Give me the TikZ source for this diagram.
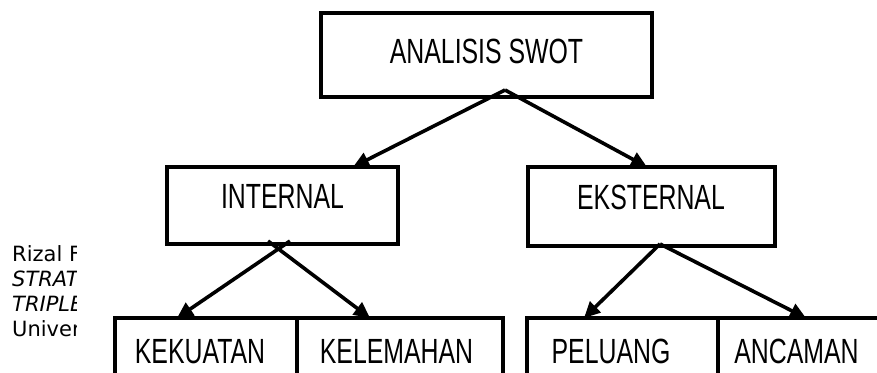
\documentclass[tikz,border=0pt]{standalone}
\usepackage{fontspec}
\usetikzlibrary{arrows.meta}
\newfontfamily\boxfont[FakeStretch=0.71]{Liberation Sans}
\newfontfamily\pagefont{DejaVu Sans}

\begin{document}
\begin{tikzpicture}[x=1pt,y=-1pt,
    box/.style={draw, line width=4.5pt, inner sep=0pt, outer sep=0pt},
    boxtext/.style={anchor=base, inner sep=0pt, font=\boxfont\fontsize{35}{40}\selectfont},
    arrow/.style={line width=3.6pt, -{Triangle[length=16pt,width=15pt]}},
    pagetext/.style={anchor=base west, inner sep=0pt, font=\pagefont\fontsize{21}{25}\selectfont, text=black}]

    \useasboundingbox (0,0) rectangle (877,372);
    \clip (0,0) rectangle (877,372);

    % text of the page behind, cut off on the right
    \begin{scope}
      \clip (0,230) rectangle (76,350);
      \node[pagetext] (page line 1) at (12,261) {Rizal F};
      \node[pagetext] (page line 2) at (12,286) {\itshape STRAT};
      \node[pagetext] (page line 3) at (12,311) {\itshape TRIPLE};
      \node[pagetext] (page line 4) at (12,336) {Univer};
    \end{scope}

    \node[box, minimum width=331pt, minimum height=84pt] (swot) at (486.5,55)  {};
    \node[box, minimum width=231pt, minimum height=77pt] (int)  at (282.5,205.5) {};
    \node[box, minimum width=247pt, minimum height=79pt] (eks)  at (651.5,206.5) {};
    \node[box, minimum width=182pt, minimum height=82pt] (kek)  at (206,359) {};
    \node[box, minimum width=206pt, minimum height=82pt] (kel)  at (400,359) {};
    \node[box, minimum width=191pt, minimum height=82pt] (pel)  at (622.5,359) {};
    \node[box, minimum width=164pt, minimum height=82pt] (anc)  at (800,359) {};

    \node[boxtext] (swot text) at ([yshift=-8pt]swot.center)            {ANALISIS SWOT};
    \node[boxtext] (int text)  at ([yshift=-3pt]int.center)             {INTERNAL};
    \node[boxtext] (eks text)  at ([xshift=-0.5pt,yshift=-3pt]eks.center) {EKSTERNAL};
    \node[boxtext] (kek text)  at ([xshift=-6pt,yshift=-4pt]kek.center)    {KEKUATAN};
    \node[boxtext] (kel text)  at ([xshift=-3.5pt,yshift=-4pt]kel.center)  {KELEMAHAN};
    \node[boxtext] (pel text)  at ([xshift=-11.5pt,yshift=-4pt]pel.center) {PELUANG};
    \node[boxtext] (anc text)  at ([xshift=-3.5pt,yshift=-4pt]anc.center)  {ANCAMAN};

    \coordinate (swot fork) at ([xshift=184pt,yshift=7pt]swot.south west);
    \coordinate (eks fork)  at ([xshift=132pt,yshift=2pt]eks.south west);

    \draw[arrow] (swot fork) -- ([xshift=186pt]int.north west);
    \draw[arrow] (swot fork) -- ([xshift=119pt]eks.north west);
    \draw[arrow] ([xshift=123pt,yshift=3pt]int.south west) -- ([xshift=62pt]kek.north west);
    \draw[arrow] ([xshift=101pt,yshift=3pt]int.south west) -- ([xshift=73pt]kel.north west);
    \draw[arrow] (eks fork) -- ([xshift=57pt]pel.north west);
    \draw[arrow] (eks fork) -- ([xshift=88pt]anc.north west);
\end{tikzpicture}
\end{document}
